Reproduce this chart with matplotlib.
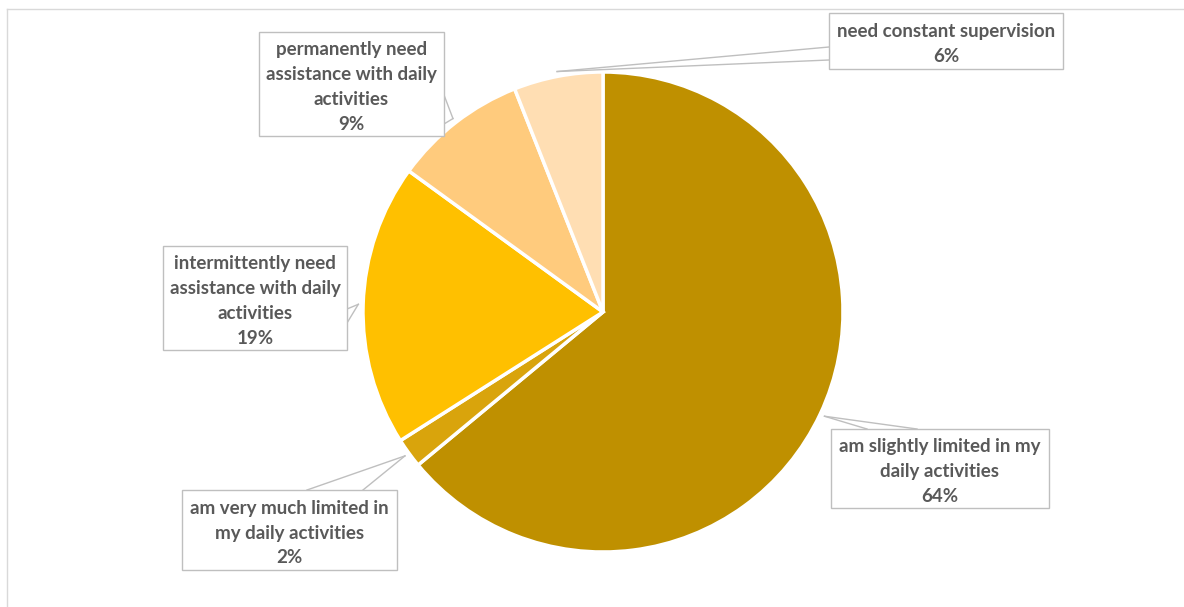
import matplotlib.pyplot as plt
from matplotlib.patches import Rectangle
import numpy as np

labels = ['am slightly limited in my\ndaily activities',
          'am very much limited in\nmy daily activities',
          'intermittently need\nassistance with daily\nactivities',
          'permanently need\nassistance with daily\nactivities',
          'need constant supervision']
shares = [64, 2, 19, 9, 6]
colors = ['#BF9000', '#D9A40C', '#FFC000', '#FFCB7D', '#FFDEB3']

W, H = 1184, 607
# label boxes in pixel coords: left, top, right, bottom ; callout base points
boxes = [
    (831, 429, 1049, 508),
    (182, 490, 397, 570),
    (163, 246, 347, 350),
    (259, 32, 444, 136),
    (829, 13, 1063, 69),
]
bases = [
    [(867, 429), (917, 429)],
    [(307, 490), (363, 490)],
    [(347, 309), (347, 323)],
    [(444, 95), (444, 124)],
    [(829, 47), (829, 60)],
]

fig = plt.figure(figsize=(W / 100, H / 100), dpi=100)
ax = fig.add_axes([0, 0, 1, 1])

cx, cy, r = 603, H - 312, 240
wedges, _ = ax.pie(shares, colors=colors, startangle=90, counterclock=False,
                   center=(cx, cy), radius=r,
                   wedgeprops=dict(edgecolor='white', linewidth=2.5))

for w, lab, val, box, base in zip(wedges, labels, shares, boxes, bases):
    ang = np.deg2rad((w.theta1 + w.theta2) / 2)
    tx, ty = cx + 1.02 * r * np.cos(ang), cy + 1.02 * r * np.sin(ang)
    for bx, by in base:
        ax.plot([bx, tx], [H - by, ty], color='#BFBFBF', lw=1, zorder=3)
    x0, y0, x1, y1 = box
    ax.add_patch(Rectangle((x0, H - y1), x1 - x0, y1 - y0, facecolor='white',
                           edgecolor='#BFBFBF', lw=1, zorder=4))
    ax.text((x0 + x1) / 2, H - (y0 + y1) / 2 - 3, f'{lab}\n{val}%', ha='center',
            va='center', fontsize=13.5, fontweight='bold', color='#595959',
            family='Lato', linespacing=1.55, zorder=5)

# faint chart-area border
ax.plot([7, W], [H - 9, H - 9], color='#D9D9D9', lw=1)
ax.plot([7, 7], [H - 9, 0], color='#D9D9D9', lw=1)

ax.set_xlim(0, W)
ax.set_ylim(0, H)
ax.set_aspect('equal', adjustable='box')
ax.axis('off')

fig.savefig('out.png', dpi=100, facecolor='white')
